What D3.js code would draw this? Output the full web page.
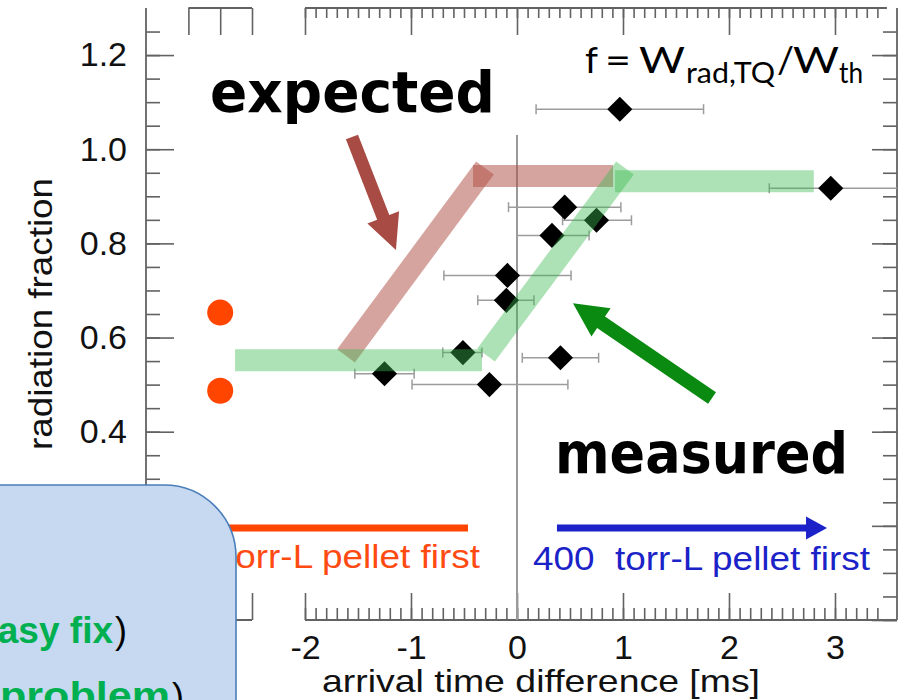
<!DOCTYPE html>
<html><head><meta charset="utf-8">
<script src="https://cdn.jsdelivr.net/npm/d3@7"></script>
<style>html,body{margin:0;padding:0;background:#fff;overflow:hidden}</style>
</head><body>
<svg id="chart" width="902" height="700"></svg>
<script>
// ---------------- data ----------------
const pointX   = [0.97, 2.96, 0.45, 0.75, 0.33, -0.09, -0.10, -0.51, 0.41, -0.26, -1.25];
const pointY   = [1.085, 0.917, 0.877, 0.849, 0.817, 0.732, 0.679, 0.568, 0.557, 0.500, 0.523];
const errLow   = [0.18, 2.38, -0.08, 0.43, 0.00, -0.69, -0.37, -0.70, 0.05, -0.99, -1.53];
const errHigh  = [1.76, 3.70, 0.98, 1.08, 0.68, 0.51, 0.16, -0.33, 0.77, 0.48, -0.97];

const singleX = [-2.8, -2.8];
const singleY = [0.653, 0.487];

const expectedDiagX = [-1.613, -0.302], expectedDiagY = [0.561, 0.960];
const expectedFlatX = [-0.415, 0.906],  expectedFlatY = [0.943, 0.943];
const measuredLowX  = [-2.66, -0.33],   measuredLowY  = [0.552, 0.552];
const measuredDiagX = [-0.292, 1.019],  measuredDiagY = [0.563, 0.960];
const measuredHighX = [0.925, 2.80],    measuredHighY = [0.932, 0.932];

const xTickValues = [-2, -1, 0, 1, 2, 3];
const xTickLabels = ["-2", "-1", "0", "1", "2", "3"];
const xMinorValues = d3.range(-20, 35).map(d => d / 10);
const xBreakTicks = [-3.1, -2.8, -2.5];
const yMajorValues = [0.0, 0.2, 0.4, 0.6, 0.8, 1.0, 1.2];
const yTickLabels  = ["", "", "0.4", "0.6", "0.8", "1.0", "1.2"];
const yMinorValues = d3.range(0, 26).map(d => d * 0.05);

// ---------------- scales ----------------
const x = d3.scaleLinear().domain([-3.5, 3.585]).range([146, 897]);
const y = d3.scaleLinear().domain([0, 1.3]).range([620, 8]);

const svg = d3.select("#chart");
const axisColor = "#626262";
const tickFont = "'Liberation Sans', Arial, Helvetica, sans-serif";

svg.append("defs").append("clipPath").attr("id", "plotclip")
  .append("rect").attr("x", x(-3.5)).attr("y", y(1.3)).attr("width", x(3.585) - x(-3.5)).attr("height", y(0) - y(1.3));

function styleAxis(g) {
  g.select(".domain").remove();
  g.selectAll(".tick line").attr("stroke", axisColor).attr("stroke-width", 1.6);
  g.selectAll(".tick text").attr("fill", "#111").style("font-family", tickFont).style("font-size", "34px");
}

// left axis
const gl = svg.append("g").attr("transform", `translate(${x(-3.5)},0)`);
gl.append("g").call(d3.axisLeft(y).tickValues(yMinorValues).tickSize(-14).tickFormat("")).call(styleAxis);
gl.append("g").call(d3.axisLeft(y).tickValues(yMajorValues).tickSize(-28).tickPadding(19)
  .tickFormat((d, i) => yTickLabels[i])).call(styleAxis);
svg.append("line").attr("x1", x(-3.5)).attr("x2", x(-3.5)).attr("y1", y(1.3)).attr("y2", y(0))
  .attr("stroke", axisColor).attr("stroke-width", 1.8);

// right axis
const gr = svg.append("g").attr("transform", `translate(${x(3.585)},0)`);
gr.append("g").call(d3.axisRight(y).tickValues(yMinorValues).tickSize(-14).tickFormat("")).call(styleAxis);
gr.append("g").call(d3.axisRight(y).tickValues(yMajorValues).tickSize(-25).tickFormat("")).call(styleAxis);
svg.append("line").attr("x1", x(3.585)).attr("x2", x(3.585)).attr("y1", y(1.3)).attr("y2", y(0))
  .attr("stroke", axisColor).attr("stroke-width", 1.8);

// top axis
const gt = svg.append("g").attr("transform", `translate(0,${y(1.3)})`);
gt.append("g").call(d3.axisTop(x).tickValues(xMinorValues).tickSize(-10).tickFormat("")).call(styleAxis);
gt.append("g").call(d3.axisTop(x).tickValues(xTickValues).tickSize(-27).tickFormat("")).call(styleAxis);
gt.append("g").call(d3.axisTop(x).tickValues(xBreakTicks).tickSize(-27).tickFormat("")).call(styleAxis);
gt.append("line").attr("x1", x(-2)).attr("x2", x(3.49)).attr("stroke", axisColor).attr("stroke-width", 1.8);
gt.append("line").attr("x1", x(-3.1)).attr("x2", x(-2.5)).attr("stroke", axisColor).attr("stroke-width", 1.8);

// bottom axis
const gb = svg.append("g").attr("transform", `translate(0,${y(0)})`);
gb.append("g").call(d3.axisBottom(x).tickValues(xMinorValues).tickSize(-12).tickFormat("")).call(styleAxis);
gb.append("g").call(d3.axisBottom(x).tickValues(xTickValues).tickSize(-27).tickPadding(15)
  .tickFormat((d, i) => xTickLabels[i])).call(styleAxis);
gb.append("g").call(d3.axisBottom(x).tickValues(xBreakTicks).tickSize(-27).tickFormat("")).call(styleAxis);
gb.append("line").attr("x1", x(-2)).attr("x2", x(3.585)).attr("stroke", axisColor).attr("stroke-width", 1.8);
gb.append("line").attr("x1", x(-3.1)).attr("x2", x(-2.5)).attr("stroke", axisColor).attr("stroke-width", 1.8);

// axis titles
svg.append("text").attr("x", 541).attr("y", 692).attr("text-anchor", "middle")
  .attr("textLength", 438).attr("lengthAdjust", "spacingAndGlyphs")
  .style("font-family", tickFont).style("font-size", "32px").attr("fill", "#111")
  .text("arrival time difference [ms]");
svg.append("text").attr("transform", "translate(52,314) rotate(-90)").attr("text-anchor", "middle")
  .attr("textLength", 272).attr("lengthAdjust", "spacingAndGlyphs")
  .style("font-family", tickFont).style("font-size", "33px").attr("fill", "#111")
  .text("radiation fraction");

// zero line
svg.append("line").attr("x1", x(0)).attr("x2", x(0)).attr("y1", y(1.03)).attr("y2", y(0))
  .attr("stroke", "#9a9a9a").attr("stroke-width", 2);

// error bars
const plot = svg.append("g").attr("clip-path", "url(#plotclip)");
const idx = d3.range(pointX.length);
const eb = plot.append("g").attr("stroke", "#9c9c9c").attr("stroke-width", 1.5);
idx.forEach(i => {
  const yy = y(pointY[i]);
  eb.append("line").attr("x1", x(errLow[i])).attr("x2", x(errHigh[i])).attr("y1", yy).attr("y2", yy);
  [errLow[i], errHigh[i]].forEach(v => {
    eb.append("line").attr("x1", x(v)).attr("x2", x(v)).attr("y1", yy - 5).attr("y2", yy + 5);
  });
});

// diamonds
plot.append("g").selectAll("path").data(idx).join("path")
  .attr("d", d3.symbol(d3.symbolSquare, 315))
  .attr("transform", i => `translate(${x(pointX[i])},${y(pointY[i])}) rotate(45)`)
  .attr("fill", "#000");

// single pellet points
svg.append("g").selectAll("circle").data(singleX).join("circle")
  .attr("cx", (d) => x(d)).attr("cy", (d, i) => y(singleY[i])).attr("r", 13)
  .attr("fill", "#ff4500");

// bands
function band(xs, ys, color, op) {
  svg.append("line").attr("x1", x(xs[0])).attr("y1", y(ys[0])).attr("x2", x(xs[1])).attr("y2", y(ys[1]))
    .attr("stroke", color).attr("stroke-width", 22).attr("stroke-opacity", op).attr("stroke-linecap", "butt");
}
const redBand = "#ad4a40", greenBand = "#3cb950";
band(expectedFlatX, expectedFlatY, redBand, 0.5);
band(expectedDiagX, expectedDiagY, redBand, 0.5);
band(measuredLowX, measuredLowY, greenBand, 0.42);
band(measuredDiagX, measuredDiagY, greenBand, 0.42);
band(measuredHighX, measuredHighY, greenBand, 0.42);

// arrows
function arrow(x1v, y1v, x2v, y2v, sw, hl, hw, color) {
  const x1 = x(x1v), y1 = y(y1v), x2 = x(x2v), y2 = y(y2v);
  const dx = x2 - x1, dy = y2 - y1, L = Math.hypot(dx, dy), ux = dx / L, uy = dy / L, px = -uy, py = ux;
  const bx = x2 - ux * hl, by = y2 - uy * hl;
  const pts = [[x1 + px * sw / 2, y1 + py * sw / 2], [bx + px * sw / 2, by + py * sw / 2], [bx + px * hw, by + py * hw],
               [x2, y2], [bx - px * hw, by - py * hw], [bx - px * sw / 2, by - py * sw / 2], [x1 - px * sw / 2, y1 - py * sw / 2]];
  svg.append("polygon").attr("points", pts.map(p => p.join(",")).join(" ")).attr("fill", color);
}
arrow(-1.557, 1.026, -1.142, 0.786, 13, 35, 17, "#a84b45");
arrow(1.840, 0.4715, 0.528, 0.673, 14, 34, 17, "#0a8a10");
arrow(0.377, 0.1954, 2.925, 0.1954, 7, 21, 11.5, "#1a22c8");
svg.append("line").attr("x1", x(-3.0)).attr("x2", x(-0.462)).attr("y1", y(0.1954)).attr("y2", y(0.1954))
  .attr("stroke", "#ff4500").attr("stroke-width", 7);

// pellet labels
svg.append("text").attr("x", 533).attr("y", 570).attr("textLength", 337).attr("lengthAdjust", "spacingAndGlyphs")
  .style("font-family", tickFont).style("font-size", "34px").style("white-space", "pre").attr("fill", "#1a22c8")
  .text("400  torr-L pellet first");
svg.append("text").attr("x", 225).attr("y", 568).attr("textLength", 255).attr("lengthAdjust", "spacingAndGlyphs")
  .style("font-family", tickFont).style("font-size", "34px").attr("fill", "#ff4a12")
  .text("torr-L pellet first");

// annotations
const boldFont = "'DejaVu Sans', Verdana, sans-serif";
svg.append("text").attr("x", 210).attr("y", 112).attr("textLength", 285).attr("lengthAdjust", "spacingAndGlyphs")
  .style("font-family", boldFont).style("font-weight", "bold").style("font-size", "57px").attr("fill", "#000")
  .text("expected");
svg.append("text").attr("x", 555).attr("y", 473).attr("textLength", 293).attr("lengthAdjust", "spacingAndGlyphs")
  .style("font-family", boldFont).style("font-weight", "bold").style("font-size", "57px").attr("fill", "#000")
  .text("measured");

// formula
const fFont = "Lato, 'Open Sans', sans-serif";
function ftext(str, x0, y0, w, size) {
  const t = svg.append("text").attr("x", x0).attr("y", y0)
    .style("font-family", fFont).style("font-size", size + "px").attr("fill", "#000").text(str);
  if (w) t.attr("textLength", w).attr("lengthAdjust", "spacingAndGlyphs");
}
ftext("f", 585, 73, null, 37);
ftext("=", 605, 73, 26, 37);
ftext("W", 639, 73, 46, 37);
ftext("rad,TQ", 686, 83, 89, 29);
ftext("/", 777, 73, 17, 37);
ftext("W", 793, 73, 46, 37);
ftext("th", 839, 83, 24, 29);

// overlay box (slide callout)
const boxFont = "'Liberation Sans', Arial, sans-serif";
svg.append("path").attr("d", "M -10 485 H 164 A 72 72 0 0 1 236 557 V 712 H -10 Z")
  .attr("fill", "#c6d9f0").attr("stroke", "#4a7ebb").attr("stroke-width", 1.6);
svg.append("text").attr("x", 113).attr("y", 643).attr("text-anchor", "end")
  .style("font-family", boxFont).style("font-size", "37px").style("font-weight", "bold").attr("fill", "#00b050")
  .text("easy fix");
svg.append("text").attr("x", 115).attr("y", 643).style("font-family", boxFont).style("font-size", "36px")
  .attr("fill", "#000").text(")");
svg.append("text").attr("x", 0).attr("y", 709).attr("textLength", 170).attr("lengthAdjust", "spacingAndGlyphs")
  .style("font-family", boxFont).style("font-size", "38px").style("font-weight", "bold").attr("fill", "#00b050")
  .text("problem");
svg.append("text").attr("x", 172).attr("y", 709).style("font-family", boxFont).style("font-size", "36px")
  .attr("fill", "#000").text(")");
</script>
</body></html>
